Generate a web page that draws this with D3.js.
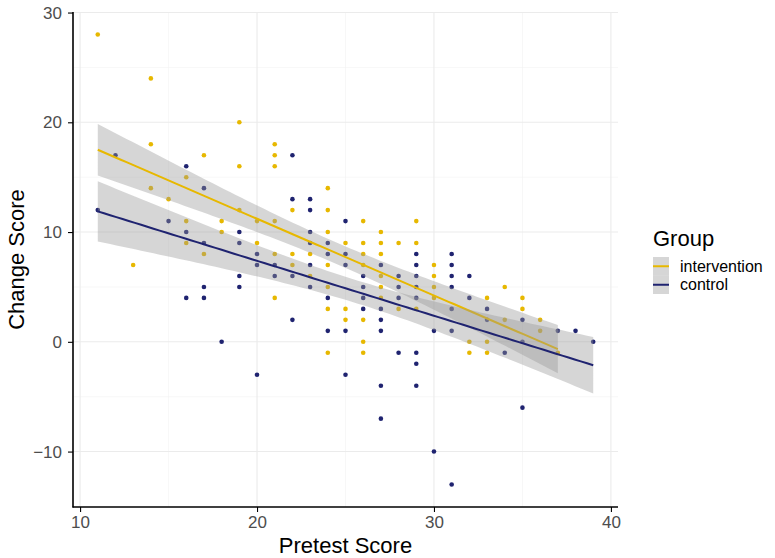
<!DOCTYPE html>
<html><head><meta charset="utf-8">
<script src="https://cdn.jsdelivr.net/npm/d3@7"></script>
<style>body{margin:0;background:#fff}svg{display:block}text{font-family:"Liberation Sans",Arial,sans-serif}</style>
</head><body><svg id="c" width="775" height="558"></svg>
<script>
const groups = ["intervention", "control"];
const groupColors = ["#E7B800", "#1F2370"];
const interventionPoints = [
[11,28],[13,7],[14,24],[14,18],[14,14],[15,13],[16,15],[16,11],[16,9],[17,17],[17,8],[18,11],[18,10],[19,20],[19,16],[19,12],[20,11],[20,9],
[21,18],[21,17],[21,16],[21,11],[21,8],[21,4],[22,12],[22,8],[22,7],[23,8],[23,6],[24,14],[24,12],[24,10],[24,7],[24,5],[24,3],[24,-1],
[25,9],[25,3],[25,2],[26,11],[26,9],[26,8],[26,7],[26,2],[26,0],[26,-1],[27,10],[27,9],[27,8],[27,6],[27,5],[27,4],[28,9],[28,3],
[29,11],[29,9],[29,3],[30,7],[30,6],[30,5],[30,4],[32,0],[32,-1],[33,4],[33,0],[33,-1],[34,5],[34,2],[35,4],[35,3],[36,2],[36,1],[37,-1]
];
const controlPoints = [
[11,12],[12,17],[15,11],[16,16],[16,10],[16,4],[17,14],[17,9],[17,5],[17,4],[18,0],[19,10],[19,9],[19,6],[19,5],[20,8],[20,7],[20,-3],
[21,7],[21,6],[22,17],[22,13],[22,6],[22,2],[23,13],[23,12],[23,10],[23,9],[23,7],[23,5],[24,9],[24,8],[24,4],[24,1],
[25,11],[25,8],[25,7],[25,1],[25,-3],[26,6],[26,5],[26,4],[26,3],[27,7],[27,3],[27,2],[27,1],[27,-4],[27,-7],
[28,6],[28,5],[28,4],[28,-1],[29,8],[29,7],[29,6],[29,5],[29,4],[29,-1],[29,-2],[29,-4],[30,1],[30,-10],
[31,8],[31,7],[31,6],[31,5],[31,3],[31,1],[31,-13],[32,6],[32,4],[33,3],[33,2],[34,-1],[35,2],[35,0],[35,-6],[37,1],[38,1],[39,0]
];
const xTicks = [10,20,30,40];
const xMinor = [15,25,35];
const yTicks = [-10,0,10,20,30];
const yMinor = [-5,5,15,25];
const xTitle = "Pretest Score", yTitle = "Change Score", legendTitle = "Group";

const svg = d3.select("#c");
const x = d3.scaleLinear().domain([9.6,40.4]).range([73,618]);
const y = d3.scaleLinear().domain([-15.05,30.05]).range([507,12]);
const L=73,R=618,T=12,B=507;

// gridlines
const g = svg.append("g");
g.selectAll(".vmin").data(xMinor).join("line").attr("x1",d=>x(d)).attr("x2",d=>x(d)).attr("y1",T).attr("y2",B).attr("stroke","#F2F2F2").attr("stroke-width",0.6);
g.selectAll(".hmin").data(yMinor).join("line").attr("y1",d=>y(d)).attr("y2",d=>y(d)).attr("x1",L).attr("x2",R).attr("stroke","#F2F2F2").attr("stroke-width",0.6);
g.selectAll(".vmaj").data(xTicks).join("line").attr("x1",d=>x(d)).attr("x2",d=>x(d)).attr("y1",T).attr("y2",B).attr("stroke","#EBEBEB").attr("stroke-width",1.1);
g.selectAll(".hmaj").data(yTicks).join("line").attr("y1",d=>y(d)).attr("y2",d=>y(d)).attr("x1",L).attr("x2",R).attr("stroke","#EBEBEB").attr("stroke-width",1.1);

const data = [interventionPoints, controlPoints];
// points
data.forEach((pts,i)=>{
  svg.append("g").selectAll("circle").data(pts).join("circle")
    .attr("cx",d=>x(d[0])).attr("cy",d=>y(d[1])).attr("r",2.3).attr("fill",groupColors[i]);
});

function tq(df){const z=1.959964;return z+(z**3+z)/(4*df)+(5*z**5+16*z**3+3*z)/(96*df*df);}
function fit(pts){
  const n=pts.length, xb=d3.mean(pts,d=>d[0]), yb=d3.mean(pts,d=>d[1]);
  const sxx=d3.sum(pts,d=>(d[0]-xb)**2), sxy=d3.sum(pts,d=>(d[0]-xb)*(d[1]-yb));
  const b=sxy/sxx, a=yb-b*xb;
  const s=Math.sqrt(d3.sum(pts,d=>(d[1]-a-b*d[0])**2)/(n-2));
  const t=tq(n-2);
  const [lo,hi]=d3.extent(pts,d=>d[0]);
  return d3.range(0,81).map(k=>{const xx=lo+(hi-lo)*k/80;const yh=a+b*xx;const se=s*Math.sqrt(1/n+(xx-xb)**2/sxx);return {x:xx,y:yh,lo:yh-t*se,hi:yh+t*se};});
}
const area=d3.area().x(d=>x(d.x)).y0(d=>y(d.lo)).y1(d=>y(d.hi));
const line=d3.line().x(d=>x(d.x)).y(d=>y(d.y));
data.forEach((pts,i)=>{
  const f=fit(pts);
  svg.append("path").attr("d",area(f)).attr("fill","#999999").attr("fill-opacity",0.4);
  svg.append("path").attr("d",line(f)).attr("fill","none").attr("stroke",groupColors[i]).attr("stroke-width",2);
});

// axes
const fmt = d=>d<0?"\u2212"+Math.abs(d):String(d);
const xa = svg.append("g").attr("transform",`translate(0,${B})`).call(d3.axisBottom(x).tickValues(xTicks).tickFormat(fmt).tickSize(5).tickPadding(4).tickSizeOuter(0));
const ya = svg.append("g").attr("transform",`translate(${L},0)`).call(d3.axisLeft(y).tickValues(yTicks).tickFormat(fmt).tickSize(5).tickPadding(6).tickSizeOuter(0));
[xa,ya].forEach(a=>{a.select(".domain").remove();a.selectAll("line").attr("stroke","#000").attr("stroke-width",1.1);a.selectAll("text").attr("fill","#4D4D4D").style("font-size","17px").style("font-family","Liberation Sans, Arial, sans-serif");});
svg.append("line").attr("x1",L).attr("x2",L).attr("y1",T).attr("y2",B+0.5).attr("stroke","#000").attr("stroke-width",1.6);
svg.append("line").attr("x1",L-0.5).attr("x2",R).attr("y1",B).attr("y2",B).attr("stroke","#000").attr("stroke-width",1.6);

svg.append("text").attr("x",(L+R)/2).attr("y",553).attr("text-anchor","middle").style("font-size","22px").attr("fill","#000").text(xTitle);
svg.append("text").attr("transform",`translate(24,${(T+B)/2}) rotate(-90)`).attr("text-anchor","middle").style("font-size","22px").attr("fill","#000").text(yTitle);

// legend
const lg = svg.append("g");
lg.append("text").attr("x",653).attr("y",246).style("font-size","22px").attr("fill","#000").text(legendTitle);
groups.forEach((gname,i)=>{
  const yy = 257 + i*18.5;
  lg.append("rect").attr("x",653).attr("y",yy).attr("width",16).attr("height",18.5).attr("fill","#999999").attr("fill-opacity",0.4);
  lg.append("line").attr("x1",653).attr("x2",669).attr("y1",yy+9.25).attr("y2",yy+9.25).attr("stroke",groupColors[i]).attr("stroke-width",2);
  lg.append("text").attr("x",680).attr("y",yy+9.25).attr("dy","0.35em").style("font-size","16px").attr("fill","#000").text(gname);
});
</script></body></html>
